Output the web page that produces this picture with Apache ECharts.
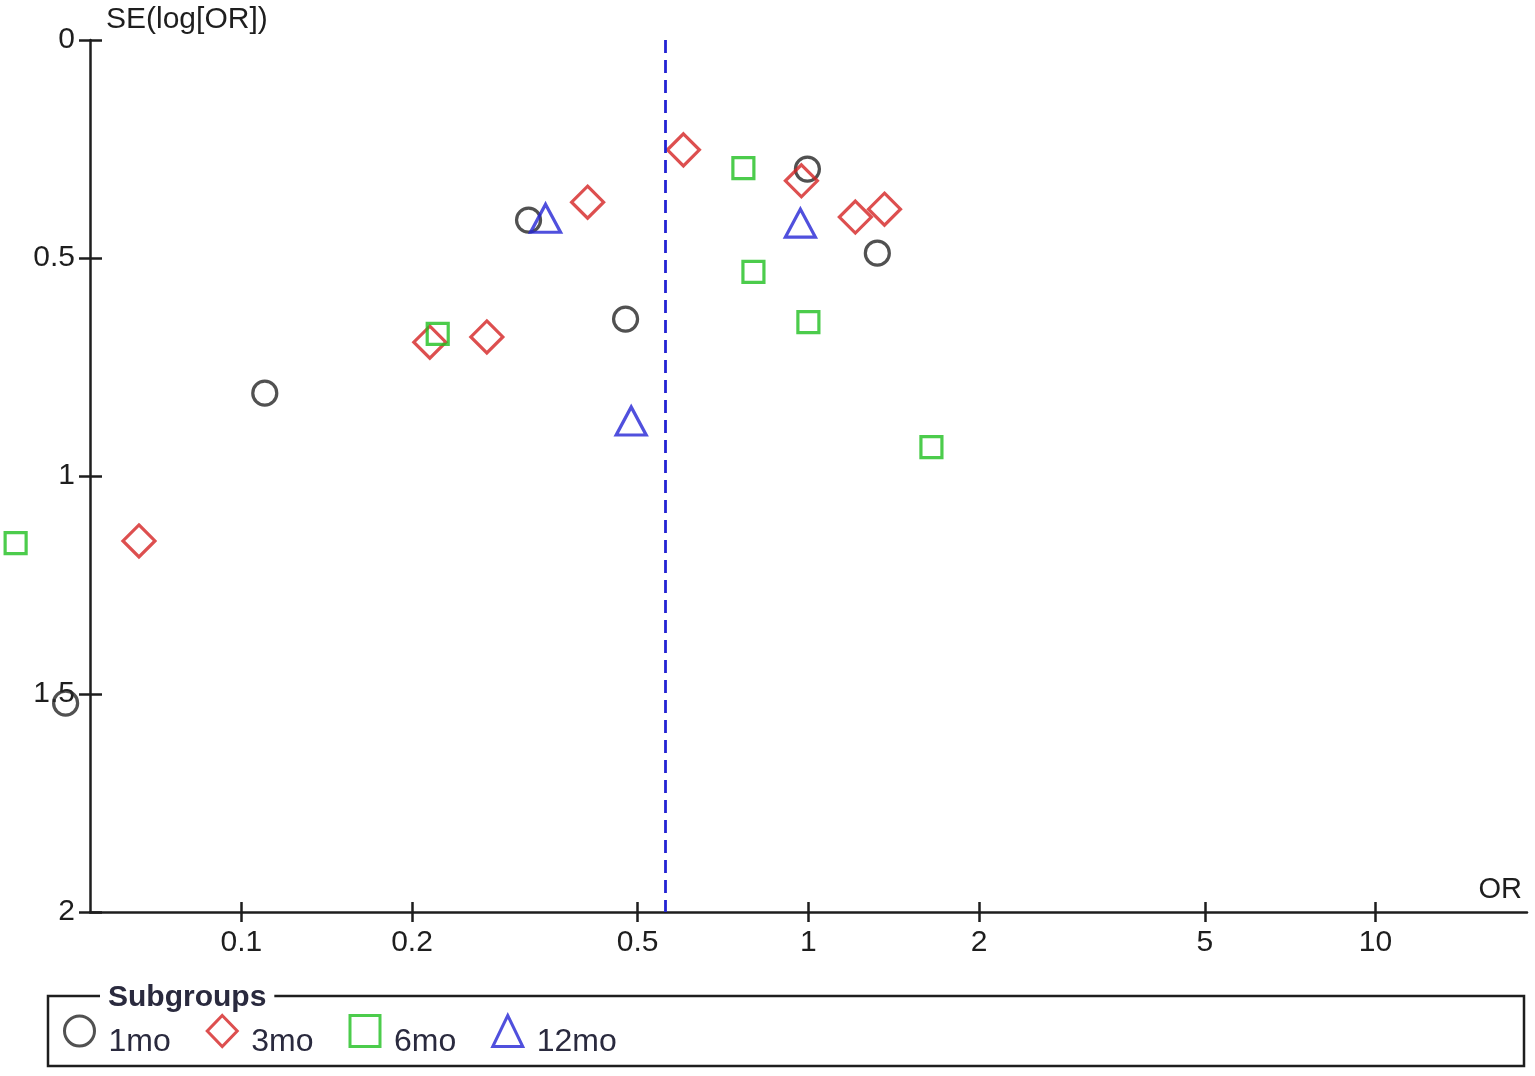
<!DOCTYPE html>
<html lang="en">
<head>
<meta charset="utf-8" />
<title>Funnel plot</title>
<script src="https://cdn.jsdelivr.net/npm/echarts@6/dist/echarts.min.js"></script>
<style>
  html, body { margin: 0; padding: 0; background: #fff; }
  #chart { width: 1535px; height: 1076px; }
</style>
</head>
<body>
<div id="chart"></div>
<script>
// subgroup names
const groups = ['1mo', '3mo', '6mo', '12mo'];

// [OR, SE(log[OR])] per subgroup
const oneMonth = [
  [0.321, 0.413], [0.996, 0.296], [1.323, 0.489],
  [0.476, 0.640], [0.110, 0.810], [0.049, 1.521]
];
const threeMonth = [
  [0.602, 0.252], [0.408, 0.372], [0.972, 0.323], [1.210, 0.406],
  [1.362, 0.388], [0.215, 0.693], [0.271, 0.681], [0.066, 1.149]
];
const sixMonth = [
  [0.768, 0.294], [0.800, 0.532], [1.000, 0.647],
  [0.222, 0.674], [1.648, 0.934], [0.040, 1.154]
];
const twelveMonth = [
  [0.344, 0.409], [0.968, 0.420], [0.487, 0.874]
];

// pooled estimate (dashed line)
const pooledOR = 0.565;

// axis ticks
const orTicks = [0.1, 0.2, 0.5, 1, 2, 5, 10];
const orMin = 0.0541, orMax = 18.5;

const FONT = 'Liberation Sans';
const INK = '#1e1e1e';
const LEGEND_INK = '#2a2a3e';

const chart = echarts.init(document.getElementById('chart'));

function xAxisBase(extra) {
  return Object.assign({
    type: 'log',
    logBase: 10,
    min: orMin,
    max: orMax,
    position: 'bottom',
    splitLine: { show: false },
    minorTick: { show: false }
  }, extra);
}

function yAxisBase(extra) {
  return Object.assign({
    type: 'value',
    min: 0,
    max: 2,
    interval: 0.5,
    inverse: true,
    position: 'left',
    splitLine: { show: false }
  }, extra);
}

function makeSeries(name, data, symbol, size, color) {
  return {
    name: name,
    type: 'scatter',
    data: data,
    symbol: symbol,
    symbolSize: size,
    clip: false,
    itemStyle: { color: 'transparent', borderColor: color, borderWidth: 3.2 },
    emphasis: { disabled: true }
  };
}

const s1 = makeSeries(groups[0], oneMonth, 'circle', 24, '#262626');
s1.markLine = {
  silent: true,
  symbol: ['none', 'none'],
  label: { show: false },
  lineStyle: { type: [13, 7], color: '#2424d4', width: 2.8 },
  data: [{ xAxis: pooledOR }]
};

const option = {
  animation: false,
  grid: { left: 90, right: 8, top: 40, bottom: 164, outerBoundsMode: 'none' },
  legend: {
    data: groups,
    left: 63,
    top: 1014,
    padding: 0,
    itemWidth: 30,
    itemHeight: 31,
    itemGap: 35,
    itemStyle: { borderWidth: 3 },
    formatter: name => '{t|' + name + '}',
    textStyle: {
      fontFamily: FONT, fontSize: 32, color: LEGEND_INK,
      rich: { t: { fontFamily: FONT, fontSize: 32, color: LEGEND_INK, padding: [22, 0, 0, 9] } }
    }
  },
  xAxis: [
    xAxisBase({
      name: 'OR',
      nameLocation: 'end',
      nameGap: -5,
      nameTextStyle: { fontFamily: FONT, fontSize: 29, color: INK, align: 'right', verticalAlign: 'bottom', padding: [0, 0, 8, 0] },
      axisLine: { show: true, onZero: false, lineStyle: { color: INK, width: 2.5 } },
      axisTick: { show: true, inside: false, length: 10, lineStyle: { color: INK, width: 2.5 }, customValues: orTicks },
      axisLabel: {
        show: true, margin: 16, fontFamily: FONT, fontSize: 30, color: INK,
        customValues: orTicks,
        formatter: v => String(+v.toPrecision(3))
      }
    }),
    xAxisBase({
      axisLine: { show: false, onZero: false },
      axisTick: { show: true, inside: true, length: 10, lineStyle: { color: INK, width: 2.5 }, customValues: orTicks },
      axisLabel: { show: false }
    })
  ],
  yAxis: [
    yAxisBase({
      name: 'SE(log[OR])',
      nameLocation: 'start',
      nameGap: 20,
      nameTextStyle: { fontFamily: FONT, fontSize: 30, color: INK, align: 'left', verticalAlign: 'middle', padding: [0, 0, 0, 16] },
      axisLine: { show: true, onZero: false, lineStyle: { color: INK, width: 2.5 } },
      axisTick: { show: true, inside: false, length: 11, lineStyle: { color: INK, width: 2.5 } },
      axisLabel: { show: true, margin: 15, fontFamily: FONT, fontSize: 30, color: INK }
    }),
    yAxisBase({
      axisLine: { show: false, onZero: false },
      axisTick: { show: true, inside: true, length: 12, lineStyle: { color: INK, width: 2.5 } },
      axisLabel: { show: false }
    })
  ],
  graphic: [
    {
      type: 'rect',
      shape: { x: 48, y: 996, width: 1476, height: 70 },
      style: { fill: 'none', stroke: INK, lineWidth: 2.5 },
      z: 0
    },
    {
      type: 'text',
      x: 100,
      y: 998,
      style: {
        text: 'Subgroups',
        fontFamily: FONT,
        fontSize: 30,
        fontWeight: 'bold',
        fill: LEGEND_INK,
        verticalAlign: 'middle',
        backgroundColor: '#fff',
        padding: [0, 8, 0, 8]
      },
      z: 1
    }
  ],
  series: [
    s1,
    makeSeries(groups[1], threeMonth, 'diamond', 32, '#d42323'),
    makeSeries(groups[2], sixMonth, 'rect', 21, '#1fbf1f'),
    makeSeries(groups[3], twelveMonth, 'triangle', [30, 28], '#2424d4')
  ]
};

chart.setOption(option);
</script>
</body>
</html>
